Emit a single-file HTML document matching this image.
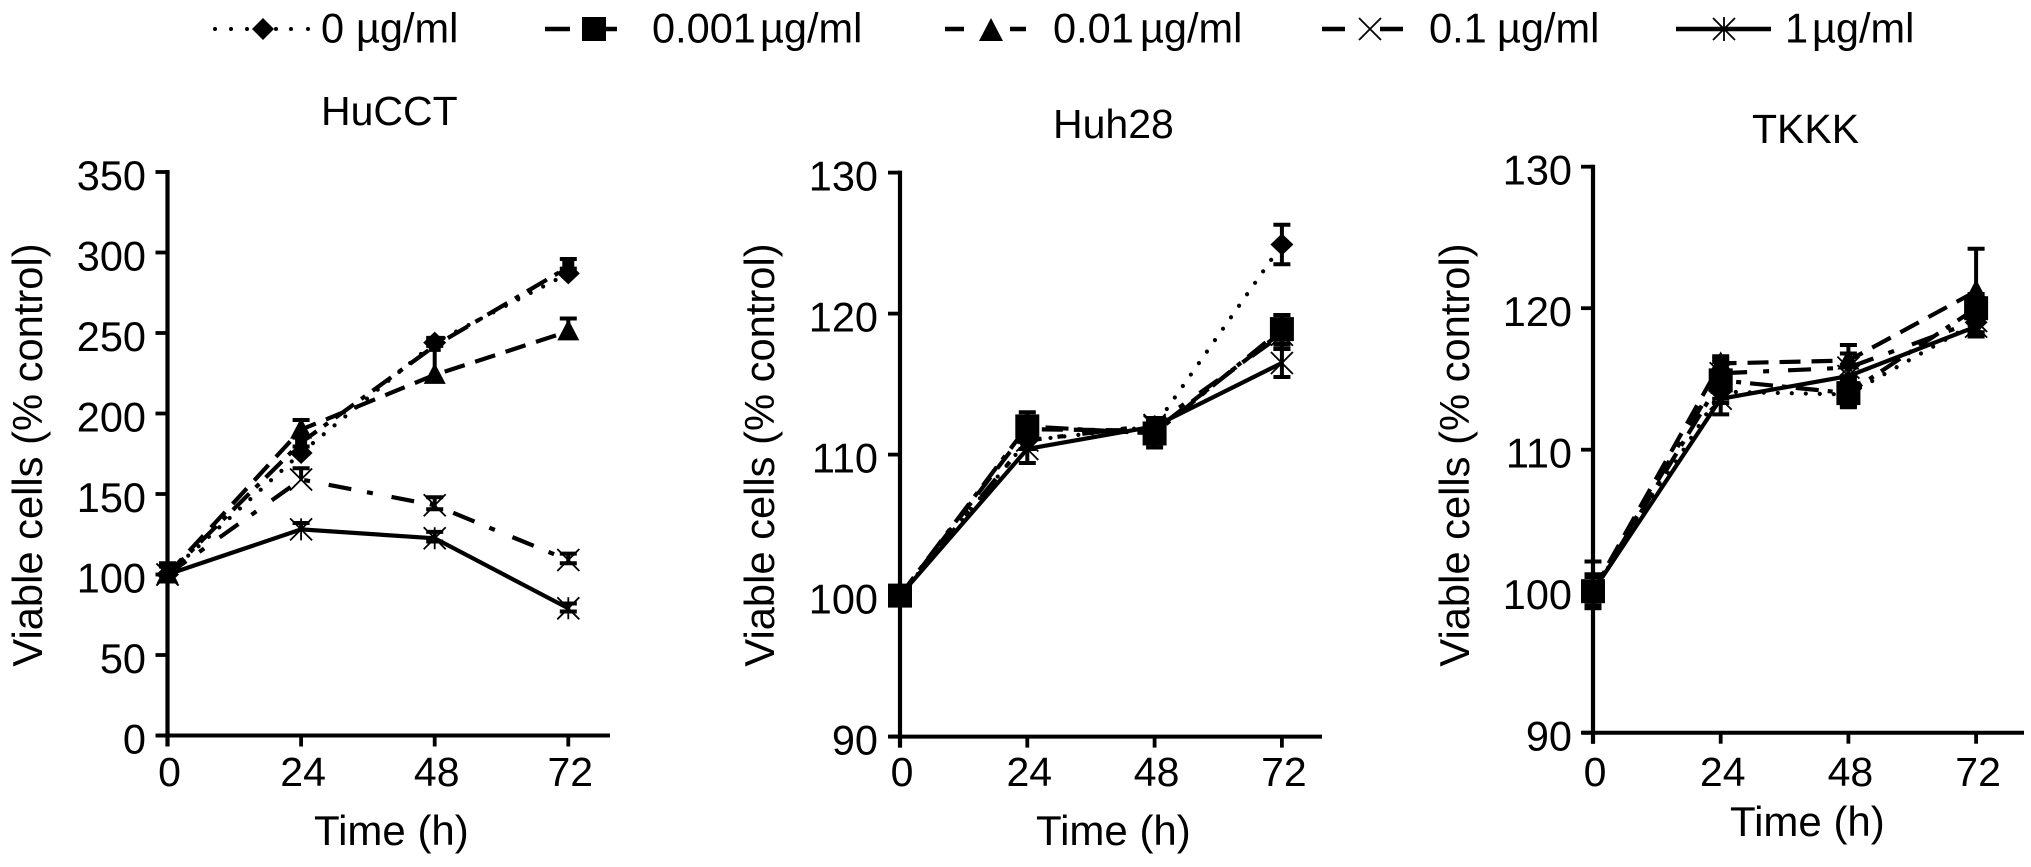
<!DOCTYPE html>
<html lang="en">
<head>
<meta charset="utf-8">
<title>Viable cells over time</title>
<style>
html,body{margin:0;padding:0;background:#fff;width:2031px;height:867px;overflow:hidden}
svg{display:block}
text{font-family:"Liberation Sans",Arial,sans-serif;fill:#000}
</style>
</head>
<body>
<svg id="figure" xmlns="http://www.w3.org/2000/svg" width="2031" height="867" viewBox="0 0 2031 867">
  <rect x="0" y="0" width="2031" height="867" fill="#fff"/>
  <g id="legend" font-size="41.5">
    <g>
      <g fill="#000">
        <circle cx="215" cy="29" r="2"/><circle cx="231" cy="29" r="2"/><circle cx="247" cy="29" r="2"/>
        <circle cx="276" cy="29" r="2"/><circle cx="291" cy="29" r="2"/><circle cx="308" cy="29" r="2"/>
      </g>
      <polygon points="263,18 274,29 263,40 252,29" fill="#000"/>
      <text y="42.5"><tspan x="321">0</tspan><tspan x="356">µg/ml</tspan></text>
    </g>
    <g>
      <path d="M545 29H570M606 29H617" stroke="#000" stroke-width="4.5" fill="none"/>
      <rect x="582" y="17" width="24" height="24" fill="#000"/>
      <text y="42.5"><tspan x="652">0.001</tspan><tspan x="760">µg/ml</tspan></text>
    </g>
    <g>
      <path d="M945 29H964M1010 29H1026" stroke="#000" stroke-width="4.5" fill="none"/>
      <polygon points="991,18 1003,41 979,41" fill="#000"/>
      <text y="42.5"><tspan x="1053">0.01</tspan><tspan x="1140">µg/ml</tspan></text>
    </g>
    <g>
      <path d="M1322 29H1345M1380 29H1403" stroke="#000" stroke-width="4.5" fill="none"/>
      <path d="M1359 18L1381 40M1381 18L1359 40" stroke="#000" stroke-width="1.8" fill="none"/>
      <text y="42.5"><tspan x="1429">0.1</tspan><tspan x="1497">µg/ml</tspan></text>
    </g>
    <g>
      <path d="M1676 29H1771" stroke="#000" stroke-width="4.5" fill="none"/>
      <path d="M1713 18L1735 40M1735 18L1713 40M1724 17V41" stroke="#000" stroke-width="1.8" fill="none"/>
      <text y="42.5"><tspan x="1785">1</tspan><tspan x="1812">µg/ml</tspan></text>
    </g>
  </g>
</svg>
<script>
// Shared categories
const hours = [0, 24, 48, 72];
const seriesLabels = ['0 µg/ml', '0.001 µg/ml', '0.01 µg/ml', '0.1 µg/ml', '1 µg/ml'];

// HuCCT values and error bars (lower whiskers are mostly hidden in this panel)
const hucctTicks = [0, 50, 100, 150, 200, 250, 300, 350];
const hucctDose0 = [100, 175.5, 244, 287];
const hucctDose0Err = [5, 4, 3, 3];
const hucctDose001 = [100, 182, 242, 291];
const hucctDose001Err = [5, 3, 3, 5];
const hucctDose01 = [100, 190, 224, 251];
const hucctDose01Err = [7, 6, 18, 8];
const hucctDose1 = [100, 159, 143, 109];
const hucctDose1Err = [5, 7, 5, 4];
const hucctDose1LowerErr = [0, 0, 2.5, 2];
const hucctDose10 = [100, 128, 122.5, 79];
const hucctDose10Err = [5, 4, 4, 3];
const hucctDose10LowerErr = [0, 0, 2, 2];
const hucctLowerErr = [0, 0, 0, 0];

// Huh28 values and error bars
const huh28Ticks = [90, 100, 110, 120, 130];
const huh28Dose0 = [100, 111, 112, 124.9];
const huh28Dose0Err = [0.4, 0.6, 0.5, 1.4];
const huh28Dose001 = [100, 112, 111.5, 118.9];
const huh28Dose001Err = [0.5, 1, 1, 1];
const huh28Dose01 = [100, 111.8, 111.7, 118.7];
const huh28Dose01Err = [0.4, 0.6, 0.5, 1.2];
const huh28Dose1 = [100, 111, 112.1, 118.5];
const huh28Dose1Err = [0.4, 0.6, 0.5, 0.7];
const huh28Dose10 = [100, 110.4, 112, 116.5];
const huh28Dose10Err = [0.4, 1, 0.5, 1];

// TKKK values and error bars
const tkkkTicks = [90, 100, 110, 120, 130];
const tkkkDose0 = [100, 114.1, 113.9, 119];
const tkkkDose0Err = [2.1, 0.8, 0.8, 0.8];
const tkkkDose0LowerErr = [1.2, 0.8, 0.8, 0.8];
const tkkkDose001 = [100, 114.9, 114, 120];
const tkkkDose001Err = [1.2, 1.3, 1, 1];
const tkkkDose01 = [100, 116.1, 116.3, 121.2];
const tkkkDose01Err = [1, 0.5, 1.1, 3];
const tkkkDose1 = [100, 115.4, 115.8, 119.1];
const tkkkDose1Err = [1, 1, 1, 0.8];
const tkkkDose10 = [100, 113.6, 115.2, 118.7];
const tkkkDose10Err = [1, 1.1, 0.8, 0.7];

const NS = 'http://www.w3.org/2000/svg';
const figure = document.getElementById('figure');

const seriesDash = ['0 14', '23 9 5 9', '21 11', '23 16 6 19', ''];
const seriesMarker = ['diamond', 'square', 'triangle', 'cross', 'asterisk'];
const seriesKey = ['0', '0-001', '0-01', '0-1', '1'];

function shape(parent, tag, attrs, name) {
  const el = document.createElementNS(NS, tag);
  for (const k in attrs) el.setAttribute(k, attrs[k]);
  
  
  parent.appendChild(el);
  return el;
}

function label(parent, str, attrs, name) {
  const el = shape(parent, 'text', attrs, name);
  el.textContent = str;
  return el;
}

function drawMarker(g, kind, cx, cy, size, squareSize) {
  const r = size;
  if (kind === 'diamond') {
    const pts = [[cx, cy - r], [cx + r + 0.5, cy], [cx, cy + r], [cx - r - 0.5, cy]].map(p => p.join(',')).join(' ');
    shape(g, 'polygon', {points: pts, fill: '#000'}, 'marker-diamond');
  } else if (kind === 'square') {
    shape(g, 'rect', {x: cx - squareSize, y: cy - squareSize, width: squareSize * 2, height: squareSize * 2, fill: '#000'}, 'marker-square');
  } else if (kind === 'triangle') {
    const pts = [[cx, cy - r - 1], [cx + r, cy + r - 2], [cx - r, cy + r - 2]].map(p => p.join(',')).join(' ');
    shape(g, 'polygon', {points: pts, fill: '#000'}, 'marker-triangle');
  } else {
    let d = 'M' + (cx - r) + ' ' + (cy - r) + 'L' + (cx + r) + ' ' + (cy + r) +
            'M' + (cx + r) + ' ' + (cy - r) + 'L' + (cx - r) + ' ' + (cy + r);
    if (kind === 'asterisk') d += 'M' + cx + ' ' + (cy - r) + 'V' + (cy + r);
    shape(g, 'path', {d: d, stroke: '#000', 'stroke-width': 1.8, fill: 'none'}, 'marker-' + kind);
  }
}

function drawPanel(p) {
  const g = shape(figure, 'g', {}, 'panel-' + p.title.toLowerCase());
  const xS = h => p.x0 + h * p.xStep / 24;
  const yS = v => p.yBase - (v - p.ticks[0]) * p.yUnit;
  const yTop = yS(p.ticks[p.ticks.length - 1]);

  label(g, p.title, {x: p.titleX, y: p.titleY, 'font-size': 41}, 'chart-title');
  label(g, 'Viable cells (% control)', {
    x: 0, y: 0, 'font-size': 41.7, 'text-anchor': 'middle',
    transform: 'translate(' + p.yTitleX + ',455) rotate(-90)'
  }, 'y-axis-title');
  label(g, 'Time (h)', {x: p.xTitleX, y: p.xTitleY, 'font-size': 42}, 'x-axis-title');

  // axes
  shape(g, 'line', {x1: p.x0, x2: p.x0, y1: yTop - 2, y2: p.yBase + 11, stroke: '#000', 'stroke-width': 4.2}, 'y-axis-line');
  shape(g, 'line', {x1: p.x0 - 11, x2: p.xEnd, y1: p.yBase, y2: p.yBase, stroke: '#000', 'stroke-width': 4}, 'x-axis-line');

  p.ticks.forEach(t => {
    const y = yS(t);
    shape(g, 'line', {x1: p.x0 - 12, x2: p.x0, y1: y, y2: y, stroke: '#000', 'stroke-width': 3.8}, 'y-tick');
    label(g, String(t), {x: p.tickEnd, y: y + 18, 'font-size': 41.5, 'text-anchor': 'end'}, 'y-tick-label');
  });
  hours.forEach(h => {
    const x = xS(h);
    shape(g, 'line', {x1: x, x2: x, y1: p.yBase, y2: p.yBase + 11, stroke: '#000', 'stroke-width': 3.8}, 'x-tick');
    label(g, String(h), {x: x + 2, y: 786, 'font-size': 41, 'text-anchor': 'middle'}, 'x-tick-label');
  });

  // series
  p.values.forEach((vals, i) => {
    const sg = shape(g, 'g', {}, 'series-' + seriesKey[i]);
    const d = vals.map((v, j) => (j ? 'L' : 'M') + xS(hours[j]) + ' ' + yS(v)).join('');
    const attrs = {d: d, fill: 'none', stroke: '#000', 'stroke-width': 4.2};
    if (seriesDash[i]) attrs['stroke-dasharray'] = seriesDash[i];
    if (i === 0) attrs['stroke-linecap'] = 'round';
    shape(sg, 'path', attrs, 'series-line');
    vals.forEach((v, j) => {
      const x = xS(hours[j]);
      const y = yS(v);
      const top = yS(v + p.errors[i][j]);
      const low = p.errorsLow[i][j];
      const bot = yS(v - low);
      shape(sg, 'path', {d: 'M' + x + ' ' + top + 'V' + bot, stroke: '#000', 'stroke-width': 4, fill: 'none'}, 'error-bar');
      let cd = 'M' + (x - 8.5) + ' ' + top + 'H' + (x + 8.5);
      if (low > 0) cd += 'M' + (x - 8.5) + ' ' + bot + 'H' + (x + 8.5);
      shape(sg, 'path', {d: cd, stroke: '#000', 'stroke-width': 4, fill: 'none'}, 'error-cap');
      drawMarker(sg, seriesMarker[i], x, y, 11, p.squareSize);
    });
  });
}

drawPanel({
  title: 'HuCCT', titleX: 321, titleY: 125, x0: 167.5, xStep: 133.6, xEnd: 610,
  yBase: 735.5, yUnit: 1.61, ticks: hucctTicks, tickEnd: 146, yTitleX: 42,
  xTitleX: 314, xTitleY: 845, squareSize: 6,
  values: [hucctDose0, hucctDose001, hucctDose01, hucctDose1, hucctDose10],
  errors: [hucctDose0Err, hucctDose001Err, hucctDose01Err, hucctDose1Err, hucctDose10Err],
  errorsLow: [hucctLowerErr, hucctLowerErr, hucctLowerErr, hucctDose1LowerErr, hucctDose10LowerErr]
});
drawPanel({
  title: 'Huh28', titleX: 1053, titleY: 138, x0: 900, xStep: 127.3, xEnd: 1322,
  yBase: 736.6, yUnit: 14.1, ticks: huh28Ticks, tickEnd: 878, yTitleX: 774,
  xTitleX: 1036, xTitleY: 845, squareSize: 12,
  values: [huh28Dose0, huh28Dose001, huh28Dose01, huh28Dose1, huh28Dose10],
  errors: [huh28Dose0Err, huh28Dose001Err, huh28Dose01Err, huh28Dose1Err, huh28Dose10Err],
  errorsLow: [huh28Dose0Err, huh28Dose001Err, huh28Dose01Err, huh28Dose1Err, huh28Dose10Err]
});
drawPanel({
  title: 'TKKK', titleX: 1752, titleY: 143, x0: 1593, xStep: 127.7, xEnd: 2024,
  yBase: 732.7, yUnit: 14.15, ticks: tkkkTicks, tickEnd: 1572, yTitleX: 1469,
  xTitleX: 1730, xTitleY: 836, squareSize: 12,
  values: [tkkkDose0, tkkkDose001, tkkkDose01, tkkkDose1, tkkkDose10],
  errors: [tkkkDose0Err, tkkkDose001Err, tkkkDose01Err, tkkkDose1Err, tkkkDose10Err],
  errorsLow: [tkkkDose0LowerErr, tkkkDose001Err, tkkkDose01Err, tkkkDose1Err, tkkkDose10Err]
});
</script>
</body>
</html>
